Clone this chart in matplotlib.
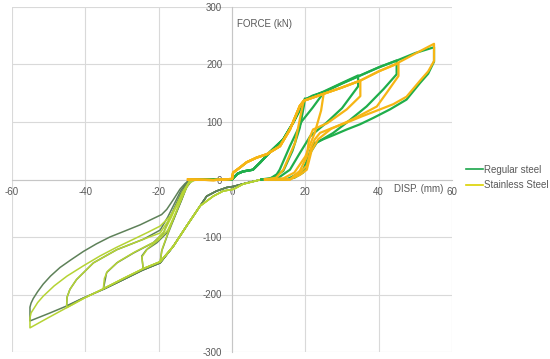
import matplotlib
matplotlib.use("Agg")
import matplotlib.pyplot as plt

plt.rcParams['font.family'] = ['Liberation Sans', 'DejaVu Sans']

# ---------------- data ----------------
# Regular steel, positive displacement half-cycles (amplitudes 20, 25, 35, 45, 55 mm)
reg_pos_x = [
    [-11, -5, 0, 1.5, 3, 5.7, 7.6, 10.4, 14, 16.7, 19.9, 19.6, 18.5, 16.5, 14, 11, 8],
    [-11, -5, 0, 1.5, 3, 5.7, 7.6, 10.4, 14, 16.7, 19.9, 22, 24.5, 24.3, 22, 19, 15.8, 13, 12.2, 10],
    [-11, -5, 0, 1.5, 3, 5.7, 7.6, 10.4, 14, 16.7, 19.9, 25, 30, 34.4, 34.4, 30, 25.8, 21.3, 18.5, 15.8, 14, 12],
    [-11, -5, 0, 1.5, 3, 5.7, 7.6, 10.4, 14, 16.7, 19.9, 25, 30, 35, 40, 44.9, 44.9, 41.3, 36.7, 31.3, 27.6, 23.1, 21.3, 19.4, 17.6, 15, 8],
    [-11, -5, 0, 1.5, 3, 5.7, 7.6, 10.4, 14, 16.7, 19.9, 25, 30, 35, 40, 45, 50, 55.1, 55.1, 53.5, 51.3, 47.6, 43.1, 38.5, 34.9, 31.3, 28, 24.9, 22.5, 21.3, 20.4, 19.4, 17, 14, 8],
]
reg_pos_y = [
    [0, 0, 0, 10, 14, 17, 29, 48, 70, 99, 141, 128, 90, 50, 15, 3, 0],
    [0, 0, 0, 10, 14, 17, 29, 48, 70, 99, 139, 146, 151, 145, 125, 101, 58, 17, 9, 0],
    [0, 0, 0, 10, 14, 17, 29, 48, 70, 99, 139, 153, 168, 181, 162, 124, 99, 75, 46, 17, 9, 0],
    [0, 0, 0, 10, 14, 17, 29, 48, 70, 99, 139, 152, 167, 181, 195, 207, 183, 157, 127, 99, 81, 64, 46, 17, 9, 0, 0],
    [0, 0, 0, 10, 14, 17, 29, 48, 70, 99, 139, 152, 167, 181, 195, 207, 220, 230, 205, 184, 168, 139, 122, 107, 96, 87, 78, 70, 63, 50, 26, 12, 3, 0, 0],
]

# Stainless steel, positive displacement half-cycles
st_pos_x = [
    [-12, -5, 0, 0.3, 2, 4, 6.7, 9.5, 13.1, 15.8, 18.5, 19.6, 19.4, 17.2, 14, 12, 9],
    [-12, -5, 0, 0.3, 2, 4, 6.7, 9.5, 13.1, 15.8, 18.5, 19.6, 25, 24.3, 22.5, 20, 17, 14, 9],
    [-12, -5, 0, 0.3, 2, 4, 6.7, 9.5, 13.1, 15.8, 18.5, 19.6, 25, 30, 35, 35, 31.3, 26, 22.1, 21, 20.4, 18.5, 15.8, 9],
    [-12, -5, 0, 0.3, 2, 4, 6.7, 9.5, 13.1, 15.8, 18.5, 19.6, 25, 30, 35, 40, 45.4, 45.4, 42.2, 39.5, 33, 27, 23.5, 21.7, 20.4, 18.5, 15.8, 9],
    [-12, -5, 0, 0.3, 2, 4, 6.7, 9.5, 13.1, 15.8, 18.5, 19.6, 25, 30, 35, 40, 45, 50, 55.1, 55.1, 53.5, 51.3, 47.6, 44, 40.4, 35.5, 31.3, 27.5, 24, 22.6, 21.7, 20.4, 18.5, 15.8, 9],
]
st_pos_y = [
    [0, -1, 1, 12, 20, 30, 38, 44, 58, 87, 128, 137, 133, 64, 17, 3, 0],
    [0, -1, 1, 12, 20, 30, 38, 44, 58, 87, 128, 137, 149, 120, 80, 40, 12, 2, 0],
    [0, -1, 1, 12, 20, 30, 38, 44, 58, 87, 128, 137, 149, 160, 172, 145, 122, 98, 87, 70, 40, 15, 0, 0],
    [0, -1, 1, 12, 20, 30, 38, 44, 58, 87, 128, 137, 149, 160, 172, 188, 202, 180, 151, 127, 105, 88, 70, 50, 17, 8, 0, 0],
    [0, -1, 1, 12, 20, 30, 38, 44, 58, 87, 128, 137, 149, 160, 172, 188, 202, 219, 236, 206, 188, 172, 144, 131, 122, 110, 99, 90, 81, 70, 58, 24, 12, 0, 0],
]

# Regular steel, negative displacement half-cycles
reg_neg_x = [
    [8, 4, 0.4, -1.5, -4.2, -6.9, -8.7, -12.4, -16, -19.6, -19.2, -17.5, -15, -12.5, -11, -8],
    [8, 4, 0.4, -1.5, -4.2, -6.9, -8.7, -12.4, -16, -19.6, -24.2, -24.6, -23.3, -20.5, -17.8, -16, -13.7, -11.9, -10],
    [8, 4, 0.4, -1.5, -4.2, -6.9, -8.7, -12.4, -16, -19.6, -24.2, -29.6, -35.1, -34.6, -34.2, -31.4, -26.9, -21.5, -18.7, -17.2, -14, -12, -10],
    [8, 4, 0.4, -1.5, -4.2, -6.9, -8.7, -12.4, -16, -19.6, -24.2, -29.6, -35.1, -40.5, -45.1, -45, -44.2, -42.4, -37.8, -31.4, -24.2, -19.6, -17.5, -14, -12, -10],
    [8, 4, 0.4, -1.5, -4.2, -6.9, -8.7, -12.4, -16, -19.6, -24.2, -29.6, -35.1, -40.5, -45.1, -49.6, -55.1, -55.1, -54.8, -54.2, -53, -51.5, -49.5, -46.9, -44, -40.5, -37, -33.3, -29, -25.1, -21.5, -19.2, -17.8, -16, -14.2, -12.8, -11.9, -10.6],
]
reg_neg_y = [
    [0, -6, -12, -14, -20, -29, -46, -81, -116, -145, -125, -95, -55, -15, -2, 0],
    [0, -6, -12, -14, -20, -29, -46, -81, -116, -145, -157, -133, -122, -110, -93, -70, -35, -5, 0],
    [0, -6, -12, -14, -20, -29, -46, -81, -116, -145, -157, -174, -191, -175, -162, -145, -128, -110, -93, -70, -25, -3, 0],
    [0, -6, -12, -14, -20, -29, -46, -81, -116, -145, -157, -174, -191, -206, -220, -205, -191, -174, -145, -122, -104, -88, -65, -20, -2, 0],
    [0, -6, -12, -14, -20, -29, -46, -81, -116, -145, -157, -174, -191, -206, -220, -232, -246, -222, -215, -207, -195, -182, -168, -153, -140, -125, -112, -100, -89, -79, -68, -61, -52, -35, -17, -7, -3, 0],
]

# Stainless steel, negative displacement half-cycles
st_neg_x = [
    [8, 3, 0.4, -2.4, -5.1, -8.7, -12.4, -16, -19.6, -19, -17, -14.5, -12, -10],
    [8, 3, 0.4, -2.4, -5.1, -8.7, -12.4, -16, -19.6, -24.2, -24.6, -23, -20, -17.5, -15.5, -13.5, -11.5, -10],
    [8, 3, 0.4, -2.4, -5.1, -8.7, -12.4, -16, -19.6, -24.2, -29.6, -35.1, -34.8, -34, -31, -26.5, -21, -18.5, -16.5, -13.5, -11.5, -10],
    [8, 3, 0.4, -2.4, -5.1, -8.7, -12.4, -16, -19.6, -24.2, -29.6, -35.1, -40.5, -45.1, -45, -44.2, -42.4, -37.8, -31.4, -24.2, -19.6, -17, -13.5, -11.5, -10],
    [8, 3, 0.4, -2.4, -5.1, -8.7, -12.4, -16, -19.6, -24.2, -29.6, -35.1, -40.5, -45.1, -50, -55.1, -55.1, -54.8, -54.2, -53, -51.5, -48.5, -45, -40.5, -36, -31.5, -26.9, -23, -19.6, -16.9, -15, -13.3, -11.5, -10],
]
st_neg_y = [
    [0, -8, -17, -20, -29, -46, -81, -116, -143, -120, -85, -45, -8, 0],
    [0, -8, -17, -20, -29, -46, -81, -116, -143, -155, -135, -120, -105, -88, -60, -28, -3, 0],
    [0, -8, -17, -20, -29, -46, -81, -116, -143, -155, -172, -190, -172, -160, -143, -126, -108, -90, -65, -22, -2, 0],
    [0, -8, -17, -20, -29, -46, -81, -116, -143, -155, -172, -190, -207, -223, -205, -191, -174, -145, -122, -104, -93, -68, -23, -3, 0],
    [0, -8, -17, -20, -29, -46, -81, -116, -143, -155, -172, -190, -207, -223, -240, -258, -241, -232, -226, -214, -203, -185, -168, -150, -133, -118, -104, -92, -81, -64, -45, -23, -3, 0],
]

series_names = ["Regular steel", "Stainless Steel"]
x_ticks = [-60, -40, -20, 0, 20, 40, 60]
y_ticks = [-300, -200, -100, 0, 100, 200, 300]

# ---------------- styling ----------------
c_reg_pos = "#1fae4b"
c_st_pos = "#f6b514"
c_reg_neg = "#5e8159"
c_st_neg = "#b5d334"
c_leg = ["#1aa64a", "#dcd200"]
txt = "#595959"
grid_c = "#d9d9d9"

fig = plt.figure(figsize=(5.5, 3.59), dpi=100)
ax = fig.add_axes([12/550, 7/359, 440/550, 345/359])
ax.set_xlim(-60, 60)
ax.set_ylim(-300, 300)

for xs, ys in zip(reg_neg_x, reg_neg_y):
    ax.plot(xs, ys, color=c_reg_neg, lw=1.1, solid_joinstyle='round', zorder=3)
for xs, ys in zip(st_neg_x, st_neg_y):
    ax.plot(xs, ys, color=c_st_neg, lw=1.1, solid_joinstyle='round', zorder=3)
for xs, ys in zip(reg_pos_x, reg_pos_y):
    ax.plot(xs, ys, color=c_reg_pos, lw=1.6, solid_joinstyle='round', zorder=4)
for xs, ys in zip(st_pos_x, st_pos_y):
    ax.plot(xs, ys, color=c_st_pos, lw=1.6, solid_joinstyle='round', zorder=5)

ax.set_xticks(x_ticks)
ax.set_yticks(y_ticks)
ax.set_xticklabels([str(v) for v in x_ticks])
ax.set_yticklabels([str(v) for v in y_ticks])
ax.grid(True, color=grid_c, lw=0.8, zorder=0)
ax.set_axisbelow(True)
for s in ['top', 'right']:
    ax.spines[s].set_visible(False)
ax.spines['left'].set_position(('data', 0))
ax.spines['bottom'].set_position(('data', 0))
ax.spines['left'].set_color("#c6c6c6")
ax.spines['bottom'].set_color("#c6c6c6")
ax.spines['left'].set_linewidth(0.8)
ax.spines['bottom'].set_linewidth(0.8)
ax.tick_params(axis='both', length=0, labelsize=7, labelcolor=txt)
ax.tick_params(axis='y', pad=7)
ax.tick_params(axis='x', pad=5.5)

ax.text(1.4, 270, "FORCE (kN)", fontsize=7, color=txt, ha='left', va='center')
ax.text(44.2, -17, "DISP. (mm)", fontsize=7, color=txt, ha='left', va='center')

handles = []
for name, col in zip(series_names, c_leg):
    h, = ax.plot([], [], color=col, lw=1.2, label=name)
    handles.append(h)
fig.legend(handles=handles, loc='center left', bbox_to_anchor=(466/550, 1 - 177.5/359),
           frameon=False, fontsize=7, labelcolor=txt, handlelength=1.7,
           handletextpad=0.15, labelspacing=0.55, borderpad=0, borderaxespad=0)

fig.savefig("out.png", dpi=100)
